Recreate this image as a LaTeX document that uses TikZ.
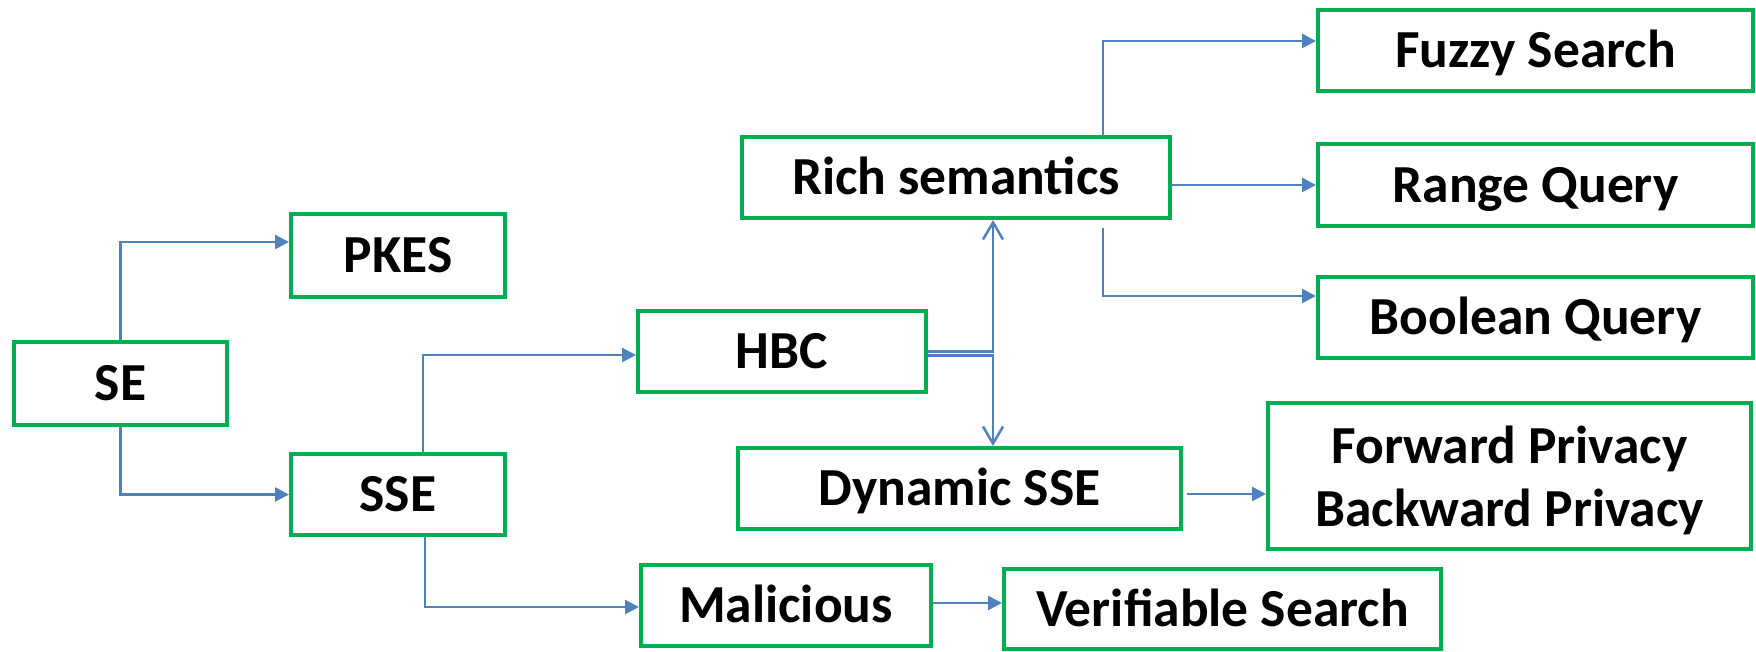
\documentclass[tikz,border=0pt]{standalone}
\usepackage{fontspec}
\setmainfont{Carlito}
\usetikzlibrary{arrows.meta}
\definecolor{boxgreen}{HTML}{00B050}
\definecolor{linkblue}{HTML}{4F81BD}
\begin{document}
\begin{tikzpicture}[x=1pt,y=-1pt,
  box/.style={draw=boxgreen, line width=4pt, fill=white, inner sep=0pt,
    font=\fontsize{53.5}{63}\selectfont\bfseries, align=center},
  oneline/.style={text height=34pt, text depth=0pt},
  link/.style={draw=linkblue, line width=2.5pt, -{Triangle[length=14pt,width=14pt]}},
  openlink/.style={draw=linkblue, line width=2.5pt, -{Straight Barb[length=17pt,width=20pt]}}]
\useasboundingbox (0,0) rectangle (1756,651);

% boxes
\node[box, oneline, minimum width=213pt, minimum height=83pt] (se)   at (120.5,383.5) {SE};
\node[box, oneline, minimum width=214pt, minimum height=83pt] (pkes) at (398,255.5) {PKES};
\node[box, oneline, minimum width=214pt, minimum height=81pt] (sse)  at (398,494.5) {SSE};
\node[box, oneline, minimum width=288pt, minimum height=81pt] (hbc)  at (782,351.5) {HBC};
\node[box, oneline, minimum width=290pt, minimum height=81pt] (mal)  at (786,605.5) {Malicious};
\node[box, oneline, minimum width=437pt, minimum height=80pt] (ver)  at (1222.5,609) {Verifiable Search};
\node[box, oneline, minimum width=443pt, minimum height=81pt] (dyn)  at (959.5,488.5) {Dynamic SSE};
\node[box, text depth=0pt, minimum width=483pt, minimum height=146pt] (fwd) at (1509.5,476) {Forward Privacy\\Backward Privacy};
\node[box, oneline, minimum width=428pt, minimum height=81pt] (rich) at (956,177.5) {Rich semantics};
\node[box, oneline, minimum width=435pt, minimum height=81pt] (fuzzy) at (1535.5,50.5) {Fuzzy Search};
\node[box, oneline, minimum width=435pt, minimum height=82pt] (range) at (1535.5,185) {Range Query};
\node[box, oneline, minimum width=435pt, minimum height=81pt] (bool)  at (1535.5,317.5) {Boolean Query};

% split point of the HBC branches
\coordinate (split) at (993,352);

% connectors
\draw[link] (se.north) |- ([yshift=13.5pt]pkes.west);
\draw[link] (se.south) |- (sse.west);
\draw[link] ([xshift=25pt]sse.north) |- ([yshift=-3.5pt]hbc.west);
\draw[link] ([xshift=27pt]sse.south) |- ([yshift=-1.5pt]mal.west);
\draw[link] ([yshift=2.5pt]mal.east) -- ([yshift=2.5pt]mal.east -| ver.west);
\draw[openlink] ([yshift=0pt]hbc.east) -| (split |- rich.south);
\draw[openlink] ([yshift=-4pt]hbc.east) -| (split |- dyn.north);
\draw[link] ([xshift=147pt]rich.north) |- ([yshift=9.5pt]fuzzy.west);
\draw[link] (rich.east |- range.west) -- (range.west);
\draw[link] ([shift={(147pt,-8pt)}]rich.south) |- ([yshift=21.5pt]bool.west);
\draw[link] ([shift={(4pt,-5.5pt)}]dyn.east) -- ([yshift=-5.5pt]dyn.east -| fwd.west);
\end{tikzpicture}
\end{document}
